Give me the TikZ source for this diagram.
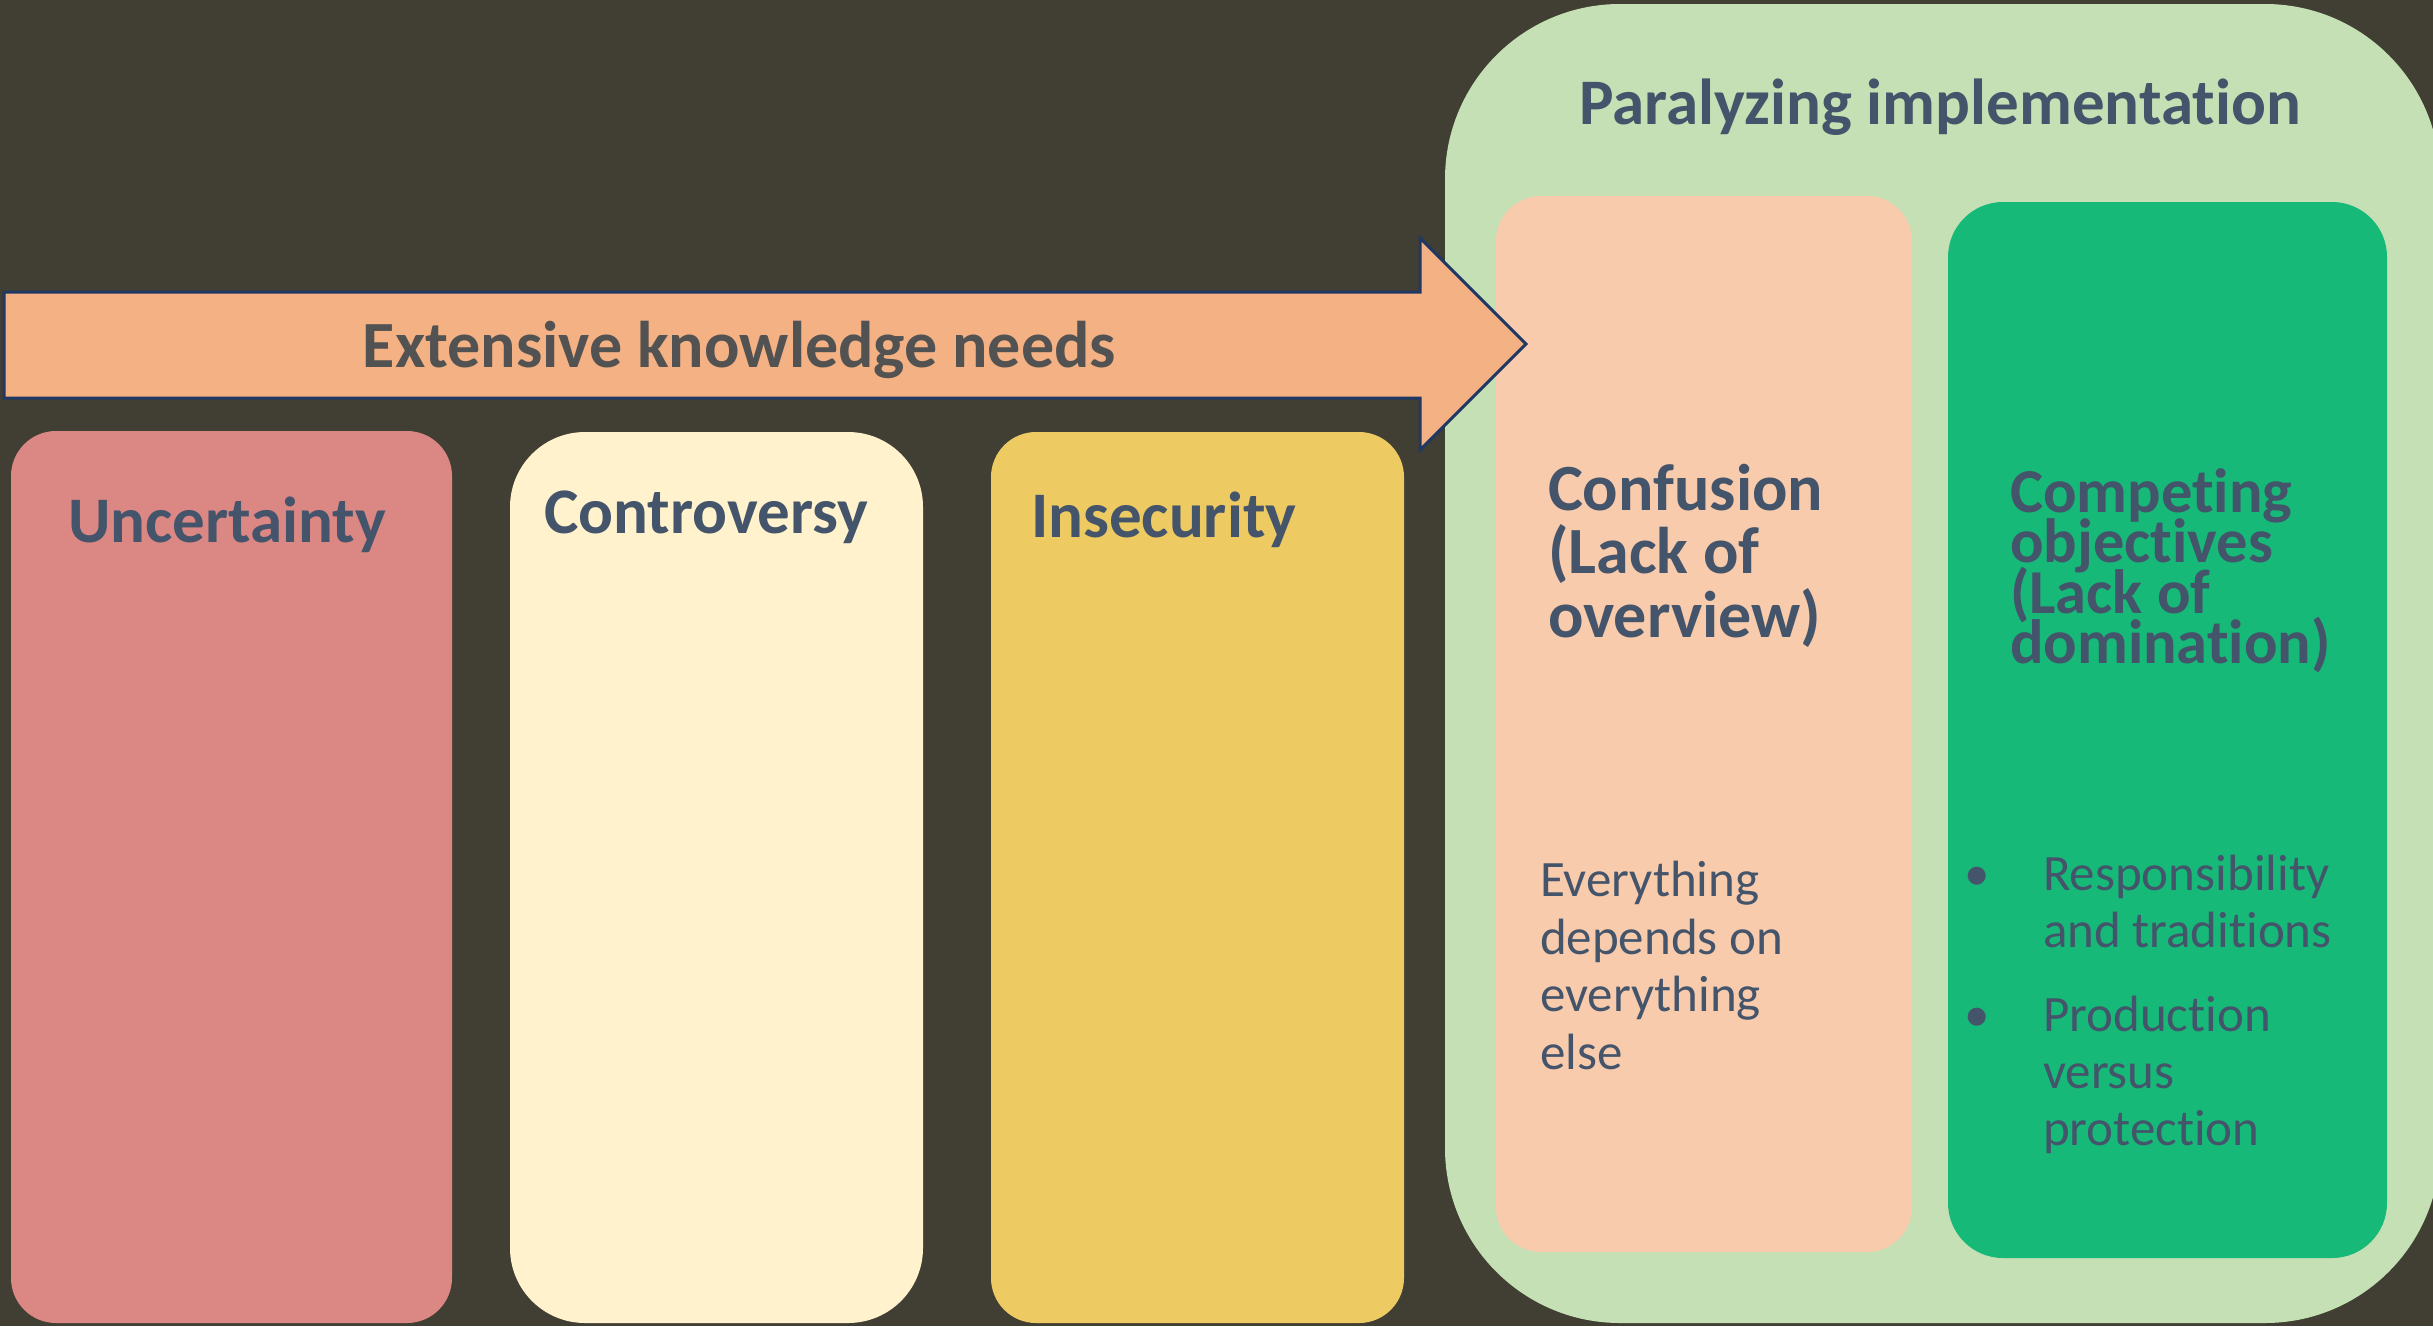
\documentclass[tikz,border=0pt]{standalone}
\usepackage{fontspec}
\setmainfont{Carlito}[Ligatures={NoCommon,NoRare,NoContextual}]
\definecolor{bgc}{HTML}{413F34}
\definecolor{arrowfill}{HTML}{F4B183}
\definecolor{arrowline}{HTML}{1F3864}
\definecolor{uncc}{HTML}{DB8784}
\definecolor{conc}{HTML}{FFF2CC}
\definecolor{insc}{HTML}{EDCA62}
\definecolor{greenc}{HTML}{C5E0B4}
\definecolor{confc}{HTML}{F8CBAD}
\definecolor{compc}{HTML}{17B978}
\definecolor{txtc}{HTML}{44546A}
\definecolor{graytxt}{HTML}{525252}
\begin{document}
\begin{tikzpicture}[x=1pt,y=-1pt,
  box/.style={draw=none,inner sep=0pt,outer sep=0pt,rectangle},
  head/.style={inner sep=0pt,outer sep=0pt,text=txtc,anchor=base west,font=\bfseries\fontsize{65}{65}\selectfont},
  conftxt/.style={inner sep=0pt,outer sep=0pt,text=txtc,anchor=base west,font=\bfseries\fontsize{66}{66}\selectfont},
  comptxt/.style={inner sep=0pt,outer sep=0pt,text=txtc,anchor=base west,font=\bfseries\fontsize{62.5}{62.5}\selectfont},
  body/.style={inner sep=0pt,outer sep=0pt,text=txtc,anchor=base west,font=\fontsize{51}{51}\selectfont},
  bul/.style={inner sep=0pt,outer sep=0pt,text=txtc,anchor=base,font=\fontsize{51}{51}\selectfont}]
\useasboundingbox (0,0) rectangle (2433,1326);
\fill[bgc] (0,0) rectangle (2433,1326);
% left boxes
\node[box,fill=uncc,rounded corners=45pt,minimum width=441pt,minimum height=892pt] (unc) at (231.5,877) {};
\node[box,fill=conc,rounded corners=75pt,minimum width=413pt,minimum height=891pt] (con) at (716.5,877.5) {};
\node[box,fill=insc,rounded corners=45pt,minimum width=413pt,minimum height=891pt] (ins) at (1197.5,877.5) {};
% green container
\node[box,fill=greenc,rounded corners=175pt,minimum width=995pt,minimum height=1319pt] (grn) at (1942.5,663.5) {};
\node[box,fill=confc,rounded corners=45pt,minimum width=416pt,minimum height=1056pt] (conf) at (1704,724) {};
\node[box,fill=compc,rounded corners=55pt,minimum width=439pt,minimum height=1056pt] (comp) at (2167.5,730) {};
% texts
\node[head,anchor=base] (title) at (1940,124) {Paralyzing implementation};
\node[head] (tunc) at (68,542) {Uncertainty};
\node[head] (tcon) at (544,533) {Controversy};
\node[head] (tins) at (1031,537) {Insecurity};
\node[conftxt] (tconf1) at (1548,510) {Confusion};
\node[conftxt] (tconf2) at (1548,573.5) {(Lack of};
\node[conftxt] (tconf3) at (1548,637) {overview)};
\node[comptxt] (tcomp1) at (2010,512) {Competing};
\node[comptxt] (tcomp2) at (2010,562) {objectives};
\node[comptxt] (tcomp3) at (2010,613) {(Lack of};
\node[comptxt] (tcomp4) at (2010,663) {domination)};
\node[body] (tev1) at (1540,896) {Everything};
\node[body] (tev2) at (1540,954) {depends on};
\node[body] (tev3) at (1540,1011) {everything};
\node[body] (tev4) at (1540,1069) {else};
\node[bul] (b1) at (1977,890) {•};
\node[bul] (b2) at (1977,1031) {•};
\node[body] (tb11) at (2043,890) {Responsibility};
\node[body] (tb12) at (2043,947) {and traditions};
\node[body] (tb21) at (2043,1031) {Production};
\node[body] (tb22) at (2043,1088) {versus};
\node[body] (tb23) at (2043,1145) {protection};
% arrow
\draw[fill=arrowfill,draw=arrowline,line width=3pt,line join=miter]
  (4,292) -- (1420,292) -- (1420,238) -- (1526,344) -- (1420,450) -- (1420,398) -- (4,398) -- cycle;
\node[inner sep=0pt,anchor=base,text=graytxt,font=\bfseries\fontsize{66}{66}\selectfont] (tarrow) at (739.5,367) {Extensive knowledge needs};
\end{tikzpicture}
\end{document}
